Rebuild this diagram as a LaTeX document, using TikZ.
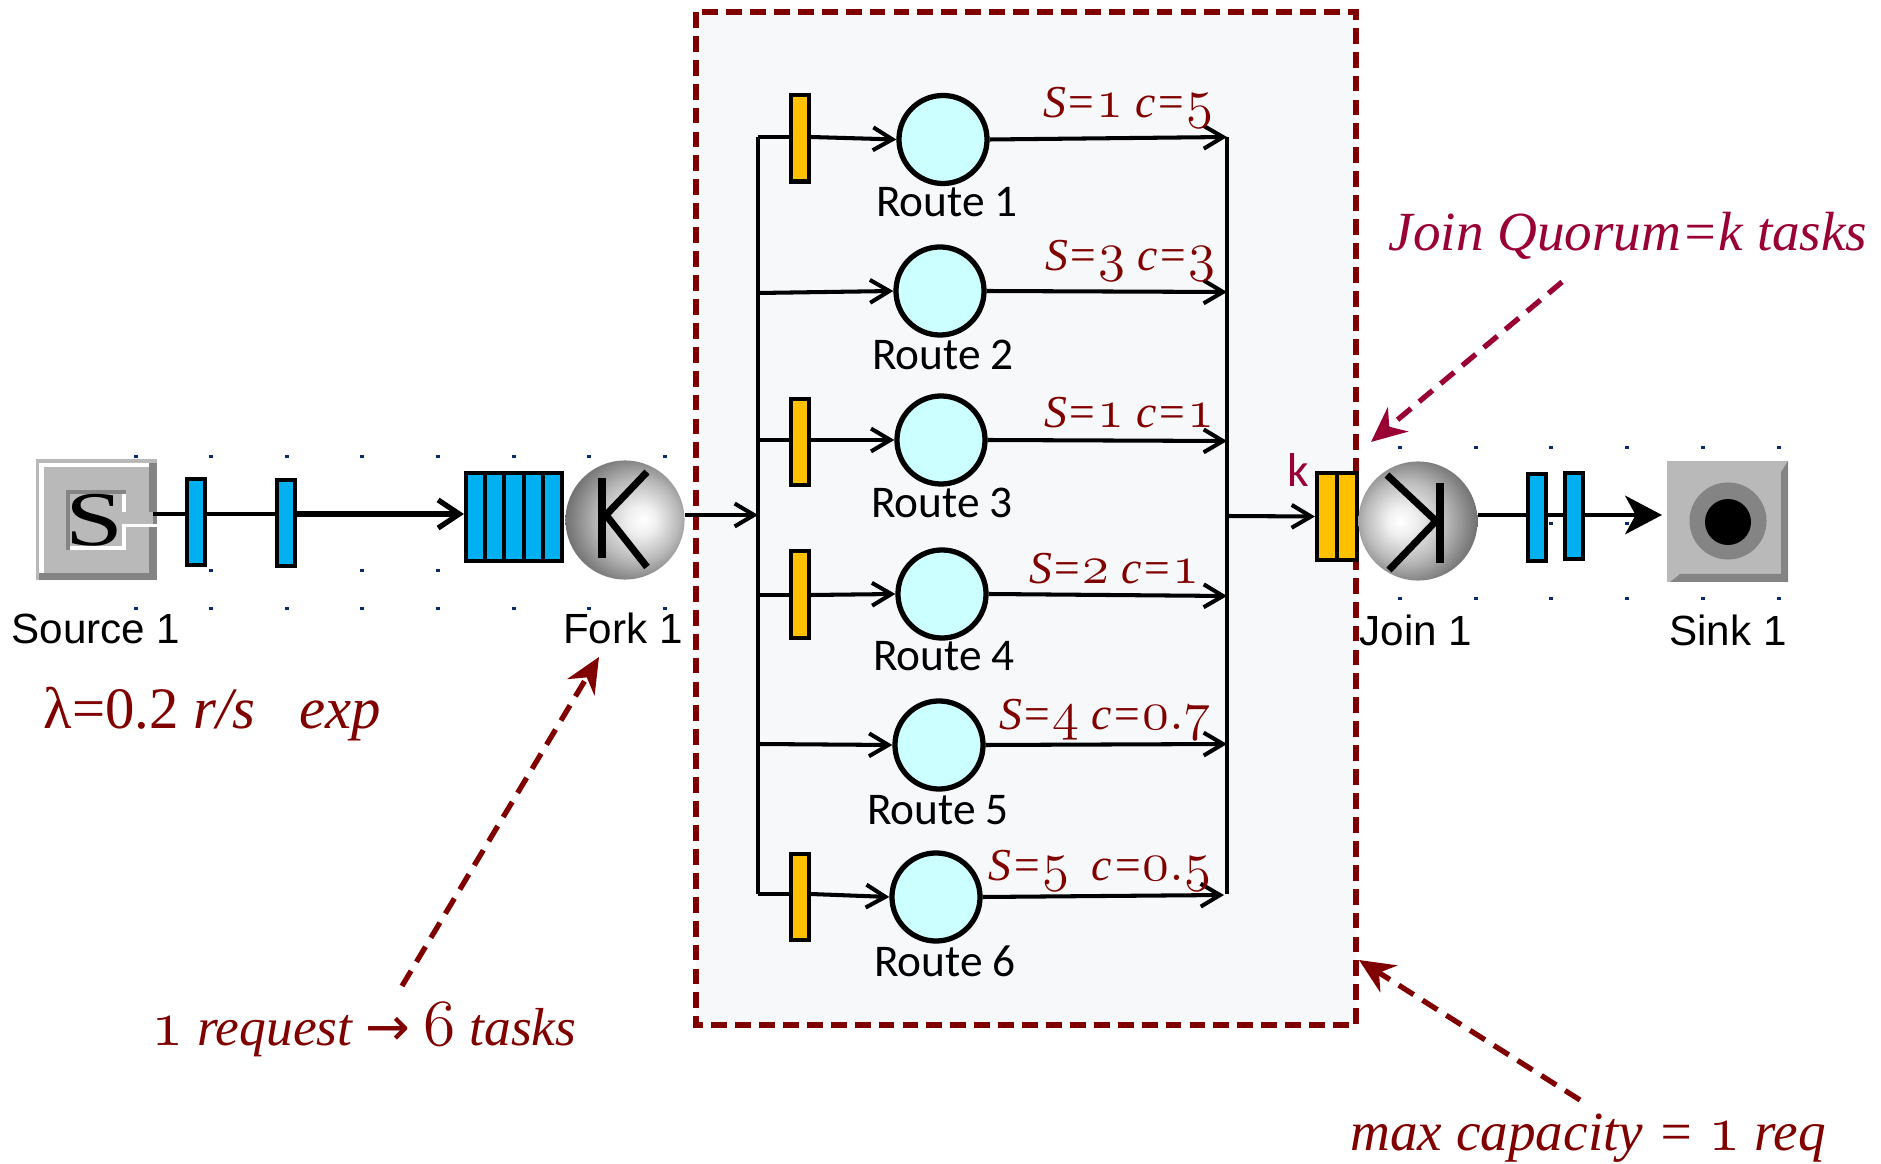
\documentclass[tikz,border=0pt]{standalone}
\usepackage{fontspec}
\setmainfont{Liberation Serif}
\setsansfont{Carlito}
\newfontfamily\pixelfont{Liberation Sans}
\newfontfamily\arrowfont{DejaVu Sans}
\usetikzlibrary{arrows.meta}

\definecolor{noteRed}{HTML}{800000}
\definecolor{quorumRed}{HTML}{990033}
\definecolor{panelFill}{HTML}{F7F8FA}
\definecolor{barBlue}{HTML}{00B0F0}
\definecolor{barOrange}{HTML}{FFC000}
\definecolor{routeFill}{HTML}{CCFFFF}
\definecolor{gridDot}{HTML}{0B2A6B}
\definecolor{boxGray}{HTML}{B9B9B9}
\definecolor{boxDark}{HTML}{848484}

\newcommand{\oldnum}[1]{\scalebox{1.3}{$\mathnormal{#1}$}}

\pgfdeclareradialshading{forkball}{\pgfpoint{8bp}{0bp}}{color(0bp)=(white); color(6bp)=(white!94!black); color(17bp)=(black!27); color(26bp)=(black!50); color(34bp)=(black!68); color(50bp)=(black!68)}
\pgfdeclareradialshading{joinball}{\pgfpoint{-8bp}{0bp}}{color(0bp)=(white); color(6bp)=(white!94!black); color(17bp)=(black!27); color(26bp)=(black!50); color(34bp)=(black!68); color(50bp)=(black!68)}

\tikzset{
  conn/.style={line width=1.15pt,-{Straight Barb[length=5.5pt,width=6.5pt]}},
  wire/.style={line width=1.15pt},
  note/.style={text=noteRed,font=\fontsize{15.7}{18}\selectfont\itshape,inner sep=0pt},
  rate/.style={text=noteRed,font=\fontsize{13}{16}\selectfont\itshape,inner sep=0pt},
  toolname/.style={font=\pixelfont\fontsize{12}{14}\selectfont,inner sep=0pt},
  routename/.style={font=\sffamily\fontsize{12.9}{14}\selectfont,inner sep=0pt},
  bluebar/.style={draw,line width=1.15pt,fill=barBlue,minimum width=0.18cm,minimum height=0.86cm,inner sep=0pt},
  orangebar/.style={draw,line width=1.15pt,fill=barOrange,minimum width=0.175cm,minimum height=0.86cm,inner sep=0pt},
  routecircle/.style={circle,draw,line width=1.5pt,fill=routeFill,minimum size=0.88cm,inner sep=0pt},
  ball/.style={circle,minimum size=1.19cm,inner sep=0pt},
  griddot/.style={fill=gridDot},
  dashnote/.style={line width=1.5pt,dash pattern=on 5pt off 3pt,-{Stealth[length=10pt,width=9pt]}}
}

\begin{document}
\begin{tikzpicture}[x=0.01cm,y=-0.01cm]
  \useasboundingbox (0,0) rectangle (1881,1164);

  % Panel round the routes
  \draw[noteRed,line width=1.5pt,dash pattern=on 4.5pt off 2.3pt,fill=panelFill] (696,12) rectangle (1356,1025);

  % Grid dots of the editor
  \foreach \x in {136,211,287,362,438,514,589,665} {
    \fill[griddot] (\x-2,455.5) rectangle (\x+2,458.5);
    \fill[griddot] (\x-2,607.5) rectangle (\x+2,610.5);
  }
  \foreach \x in {211,362,438} \fill[griddot] (\x-2,569.5) rectangle (\x+2,572.5);
  \foreach \x in {1400,1476,1551,1627,1703,1779} {
    \fill[griddot] (\x-2,446.5) rectangle (\x+2,449.5);
    \fill[griddot] (\x-2,597.5) rectangle (\x+2,600.5);
  }
  \foreach \x in {1551,1627} \fill[griddot] (\x-2,522.5) rectangle (\x+2,525.5);

  % Source box
  \fill[boxGray] (36,459) rectangle (157,580);
  \fill[white] (39,463) rectangle (44,574);
  \fill[white] (39,463) rectangle (150,467);
  \fill[boxDark] (149,463) rectangle (157,580);
  \fill[boxDark] (39,573) rectangle (157,580);
  \fill[boxDark] (66,490) rectangle (126,550);
  \fill[white] (70,494) rectangle (126,550);
  \fill[boxGray] (70,494) rectangle (122,546);
  \fill[boxGray] (122,512) rectangle (153,524);
  \fill[white] (122,524) rectangle (157,527);
  \node[inner sep=0pt,font=\fontsize{22}{22}\selectfont] (sourceS) at (95,520) {\scalebox{1.35}[1]{S}};
  \coordinate (sourceout) at (153,514);

  % Blue bars and queue
  \node[bluebar] (barA) at (196,522) {};
  \node[bluebar] (barB) at (286,523) {};
  \foreach \x/\n in {475.6/a,494.8/b,514/c,533.2/d,552.4/e}
    \node[bluebar,minimum width=0.192cm,minimum height=0.88cm] (queue\n) at (\x,517) {};

  % Fork ball
  \node[ball,shading=forkball] (fork) at (625,520) {};
  \draw[line width=2pt] (602,478) -- (602,558);
  \draw[line width=2pt] (606,515) -- (647,472);
  \draw[line width=2pt] (606,515) -- (647,567);

  % Source to fork
  \draw[wire] (sourceout) -- (barA.west |- sourceout);
  \draw[wire] (barA.east |- sourceout) -- (barB.west |- sourceout);
  \draw[line width=1.5pt,-{Straight Barb[length=6pt,width=8pt]}] (barB.east |- sourceout) -- (queuea.west |- sourceout);

  % Split and merge lines
  \coordinate (splitA) at (758,137);
  \coordinate (splitB) at (758,293);
  \coordinate (splitC) at (758,440);
  \coordinate (splitD) at (758,595);
  \coordinate (splitE) at (758,744);
  \coordinate (splitF) at (758,894);
  \coordinate (mergeA) at (1227,137);
  \coordinate (mergeB) at (1227,292);
  \coordinate (mergeC) at (1227,441);
  \coordinate (mergeD) at (1227,596);
  \coordinate (mergeE) at (1227,744);
  \coordinate (mergeF) at (1224,895);
  \coordinate (mergeEnd) at (1227,894);
  \coordinate (splitIn) at (758,515);
  \coordinate (mergeOut) at (1227,516);
  \draw[wire] (splitA) -- (splitF);
  \draw[wire] (mergeA) -- (mergeEnd);

  % Routes
  \node[orangebar] (gateA) at (800,138.5) {};
  \node[orangebar] (gateC) at (800,442) {};
  \node[orangebar] (gateD) at (800,594.5) {};
  \node[orangebar] (gateF) at (800,897) {};
  \node[routecircle] (routeA) at (943,139.5) {};
  \node[routecircle] (routeB) at (940,291) {};
  \node[routecircle] (routeC) at (941,440) {};
  \node[routecircle] (routeD) at (942,594) {};
  \node[routecircle] (routeE) at (939,745) {};
  \node[routecircle] (routeF) at (936,897) {};

  \draw[wire] (splitA) -- (gateA.west |- splitA);
  \draw[conn] (gateA.east |- splitA) -- (routeA.west);
  \draw[conn] (routeA.east) -- (mergeA);
  \draw[conn] (splitB) -- (routeB.west);
  \draw[conn] (routeB.east) -- (mergeB);
  \draw[wire] (splitC) -- (gateC.west |- splitC);
  \draw[conn] (gateC.east |- splitC) -- (routeC.west);
  \draw[conn] (routeC.east) -- (mergeC);
  \draw[wire] (splitD) -- (gateD.west |- splitD);
  \draw[conn] (gateD.east |- splitD) -- (routeD.west);
  \draw[conn] (routeD.east) -- (mergeD);
  \draw[conn] (splitE) -- (routeE.west);
  \draw[conn] (routeE.east) -- (mergeE);
  \draw[wire] (splitF) -- (gateF.west |- splitF);
  \draw[conn] (gateF.east |- splitF) -- (routeF.west);
  \draw[conn] (routeF.east) -- (mergeF);
  \draw[conn] (fork.east |- splitIn) -- (splitIn);

  % Route names and rates
  \node[routename] (nameA) at (947,202) {Route 1};
  \node[routename] (nameB) at (943,355) {Route 2};
  \node[routename] (nameC) at (942,503) {Route 3};
  \node[routename] (nameD) at (944,656) {Route 4};
  \node[routename] (nameE) at (938,810) {Route 5};
  \node[routename] (nameF) at (945,961) {Route 6};
  \node[rate] (rateA) at (1128,108) {S=\oldnum{1} c=\oldnum{5}};
  \node[rate] (rateB) at (1130,261) {S=\oldnum{3} c=\oldnum{3}};
  \node[rate] (rateC) at (1129,413) {S=\oldnum{1} c=\oldnum{1}};
  \node[rate] (rateD) at (1114,569) {S=\oldnum{2} c=\oldnum{1}};
  \node[rate] (rateE) at (1105,720) {S=\oldnum{4} c=\oldnum{0.7}};
  \node[rate] (rateF) at (1100,871) {S=\oldnum{5}\ \ c=\oldnum{0.5}};

  % Join side
  \node[orangebar,minimum width=0.2cm,minimum height=0.87cm] (joinA) at (1327,516.5) {};
  \node[orangebar,minimum width=0.2cm,minimum height=0.87cm] (joinB) at (1347,516.5) {};
  \node[ball,shading=joinball] (join) at (1418,521) {};
  \draw[line width=2pt] (1440,483) -- (1440,563);
  \draw[line width=2pt] (1387,475) -- (1436,521);
  \draw[line width=2pt] (1389,570) -- (1436,521);
  \draw[conn] (mergeOut) -- (joinA.west);
  \node[inner sep=0pt,text=quorumRed,font=\sffamily\fontsize{13.5}{14}\selectfont] (kLabel) at (1298,470) {k};

  % Sink box
  \node[bluebar] (barC) at (1537,517.5) {};
  \node[bluebar] (barD) at (1574,516) {};
  \fill[boxGray] (1667,461) rectangle (1788,582);
  \fill[boxDark] (1781,472) -- (1788,461) -- (1788,582) -- (1670,582) -- (1680,574) -- (1781,574) -- cycle;
  \node[circle,fill=boxDark,minimum size=0.77cm,inner sep=0pt] (sinkRing) at (1728,521) {};
  \node[circle,fill=black,minimum size=0.46cm,inner sep=0pt] (sinkDot) at (1728,522) {};
  \coordinate (sinkin) at (1662,515);
  \draw[wire] (join.east |- sinkin) -- (barC.west |- sinkin);
  \draw[wire] (barC.east |- sinkin) -- (barD.west |- sinkin);
  \draw[line width=1.15pt,-{Stealth[length=10.5pt,width=11pt,inset=3pt]}] (barD.east |- sinkin) -- (sinkin);

  % Tool labels
  \node[toolname] (sourceName) at (96,629) {Source 1};
  \node[toolname] (forkName) at (623,628) {Fork 1};
  \node[toolname] (joinName) at (1416,630) {Join 1};
  \node[toolname] (sinkName) at (1728,630) {Sink 1};

  % Notes and their arrows
  \node[note,anchor=west,font=\fontsize{16.7}{18}\selectfont\itshape] (lambdaNote) at (43,714) {\upshape λ=0.2 \itshape r/s\ \ \ exp};
  \node[note,font=\fontsize{15.2}{18}\selectfont\itshape] (splitNote) at (364,1030) {\oldnum{1} request {\arrowfont →} \oldnum{6} tasks};
  \node[note,text=quorumRed] (quorumNote) at (1628,236) {Join Quorum=k tasks};
  \node[note] (capNote) at (1588,1138) {max capacity = \oldnum{1} req};
  \coordinate (forkMark) at (599,657);
  \coordinate (panelMark) at (1371,442);
  \coordinate (panelCorner) at (1359,960);
  \coordinate (splitStart) at (402,986);
  \coordinate (quorumStart) at (1562,282);
  \coordinate (capStart) at (1580,1100);
  \draw[dashnote,noteRed] (splitStart) -- (forkMark);
  \draw[dashnote,quorumRed] (quorumStart) -- (panelMark);
  \draw[dashnote,noteRed] (capStart) -- (panelCorner);
\end{tikzpicture}
\end{document}
